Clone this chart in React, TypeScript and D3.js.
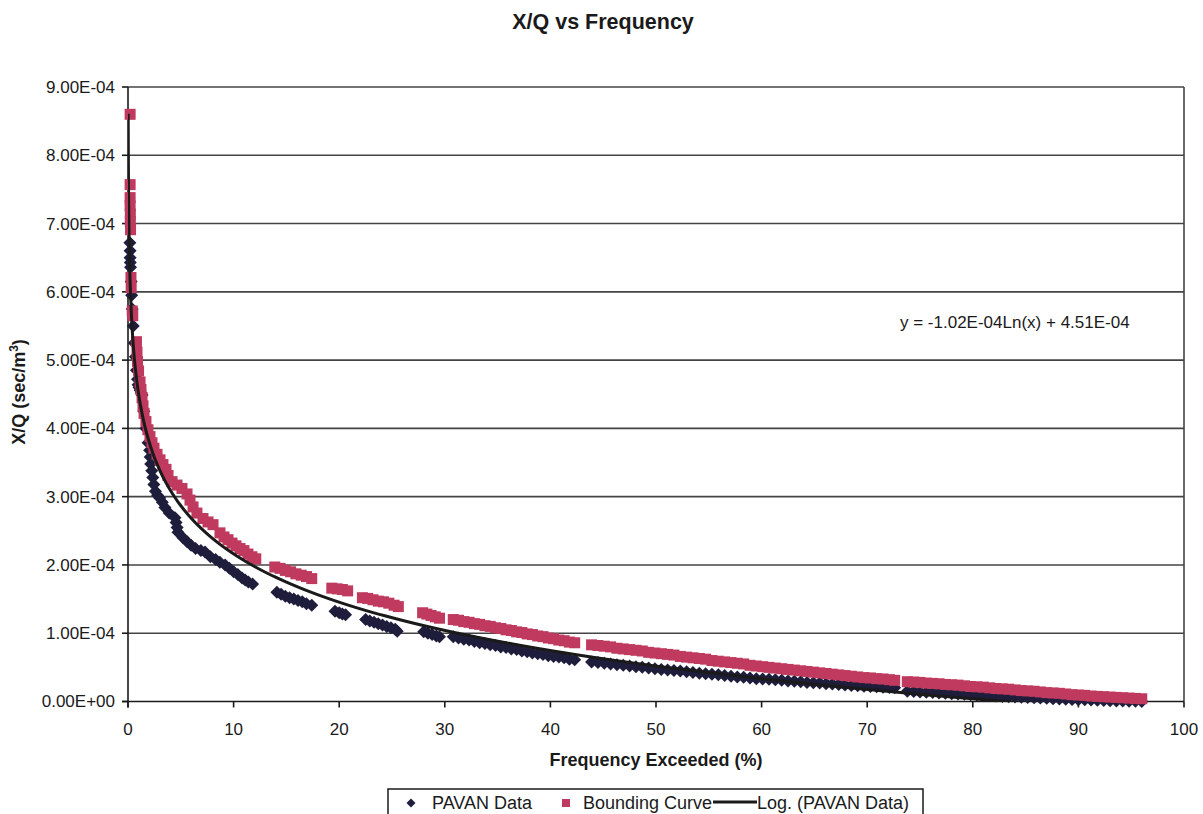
import React from 'react';
import * as d3 from 'd3';

// ---------- data (x = frequency exceeded %, y in units of 1E-04 sec/m^3) ----------
const Y_UNIT = 1e-4;
const TITLE = 'X/Q vs Frequency';
const X_TITLE = 'Frequency Exceeded (%)';
const EQUATION = 'y = -1.02E-04Ln(x) + 4.51E-04';
const xTicks = [0, 10, 20, 30, 40, 50, 60, 70, 80, 90, 100];
const yTicks = [0, 1, 2, 3, 4, 5, 6, 7, 8, 9];
const yTickLabels = ['0.00E+00', '1.00E-04', '2.00E-04', '3.00E-04', '4.00E-04', '5.00E-04', '6.00E-04', '7.00E-04', '8.00E-04', '9.00E-04'];
const legendLabels = ['PAVAN Data', 'Bounding Curve', 'Log. (PAVAN Data)'];
const TREND_A = -1.02e-4;
const TREND_B = 4.51e-4;
const TREND_X_MIN = 0.018;
const TREND_X_MAX = 96.0;

const pavanData: [number, number][] = [
  [0.18, 6.72], [0.2, 6.6], [0.2, 6.5], [0.22, 6.43], [0.24, 6.36], [0.3, 6.15], [0.35, 5.95], [0.4, 5.75],
  [0.5, 5.5], [0.6, 5.25], [0.7, 5.05], [0.8, 4.85], [0.9, 4.72], [0.95, 4.64], [1.05, 4.6], [1.15, 4.56],
  [1.25, 4.52], [1.33, 4.49], [1.5, 4.25], [1.7, 4.0], [1.9, 3.79], [2.05, 3.68], [2.1, 3.58], [2.15, 3.48],
  [2.25, 3.38], [2.35, 3.28], [2.45, 3.18], [2.6, 3.08], [2.8, 3.02], [3.0, 2.98], [3.25, 2.92], [3.5, 2.84],
  [3.9, 2.76], [4.45, 2.69], [4.55, 2.62], [4.65, 2.55], [4.73, 2.48], [5.2, 2.4], [5.6, 2.34], [5.97, 2.29],
  [6.4, 2.24], [6.9, 2.21], [7.3, 2.19], [7.8, 2.12], [8.3, 2.08], [8.7, 2.04], [9.2, 2.0], [9.6, 1.95],
  [10.0, 1.9], [10.4, 1.86], [10.8, 1.81], [11.1, 1.78], [11.4, 1.75], [11.8, 1.72],
  [14.1, 1.6], [14.5, 1.57], [14.9, 1.54], [15.3, 1.52], [15.7, 1.5], [16.1, 1.48], [16.5, 1.46], [16.9, 1.43], [17.4, 1.41],
  [19.6, 1.32], [20.0, 1.3], [20.3, 1.28], [20.6, 1.27],
  [22.5, 1.2], [22.9, 1.18], [23.3, 1.16], [23.7, 1.14], [24.1, 1.12], [24.5, 1.1], [24.9, 1.08], [25.3, 1.06], [25.5, 1.03],
  [28.0, 1.02], [28.4, 1.0], [28.8, 0.98], [29.2, 0.96], [29.5, 0.95],
  [30.8, 0.95], [31.3, 0.93], [31.8, 0.91], [32.3, 0.9], [32.8, 0.88], [33.3, 0.86], [33.8, 0.85], [34.3, 0.83],
  [34.8, 0.82], [35.3, 0.8], [35.8, 0.79], [36.3, 0.77], [36.8, 0.76], [37.3, 0.74], [37.8, 0.73], [38.3, 0.71],
  [38.8, 0.7], [39.3, 0.69], [39.8, 0.67], [40.3, 0.66], [40.8, 0.65], [41.3, 0.64], [41.8, 0.62], [42.3, 0.61],
  [43.9, 0.58], [44.5, 0.57], [45.1, 0.56], [45.7, 0.55], [46.3, 0.54], [46.9, 0.53], [47.5, 0.52], [48.1, 0.51],
  [48.7, 0.5], [49.3, 0.49], [49.9, 0.48], [50.5, 0.47], [51.1, 0.46], [51.7, 0.455], [52.3, 0.445], [52.9, 0.435],
  [53.5, 0.425], [54.1, 0.415], [54.7, 0.405], [55.3, 0.4], [55.9, 0.39], [56.5, 0.38], [57.1, 0.37], [57.7, 0.36],
  [58.3, 0.355], [58.9, 0.345], [59.5, 0.335], [60.1, 0.33], [60.7, 0.325], [61.3, 0.32],
  [61.9, 0.31], [62.5, 0.3], [63.1, 0.295], [63.7, 0.29], [64.3, 0.28], [64.9, 0.275], [65.5, 0.27], [66.1, 0.26],
  [66.7, 0.255], [67.3, 0.25], [67.9, 0.24], [68.5, 0.235], [69.1, 0.23], [69.7, 0.225], [70.3, 0.22], [70.9, 0.215],
  [71.5, 0.21], [72.1, 0.205], [72.6, 0.2],
  [73.8, 0.15], [74.4, 0.145], [75.0, 0.14], [75.6, 0.135], [76.2, 0.13], [76.8, 0.125], [77.4, 0.12], [78.0, 0.115],
  [78.6, 0.11], [79.2, 0.105], [79.8, 0.1], [80.4, 0.095], [81.0, 0.09], [81.6, 0.085], [82.2, 0.08], [82.8, 0.075],
  [83.4, 0.07], [84.0, 0.066], [84.6, 0.062], [85.2, 0.058], [85.8, 0.054], [86.4, 0.05], [87.0, 0.046], [87.6, 0.042],
  [88.2, 0.038], [88.8, 0.034], [89.4, 0.03], [90.0, 0.027], [90.6, 0.024], [91.2, 0.021], [91.8, 0.018], [92.4, 0.015],
  [93.0, 0.012], [93.6, 0.009], [94.2, 0.006], [94.8, 0.004], [95.4, 0.002], [96.0, 0.0],
];

const boundingCurve: [number, number][] = [
  [0.2, 8.6], [0.2, 7.57], [0.2, 7.38], [0.2, 7.26], [0.22, 7.14], [0.22, 7.03], [0.24, 6.91], [0.28, 6.21],
  [0.3, 6.06], [0.4, 5.72], [0.45, 5.65], [0.8, 5.27], [0.85, 5.12], [0.9, 4.98], [1.0, 4.84],
  [1.14, 4.68], [1.23, 4.57], [1.33, 4.45], [1.42, 4.33], [1.52, 4.22], [1.7, 4.1], [1.89, 3.98], [2.08, 3.88],
  [2.27, 3.79], [2.46, 3.71], [2.75, 3.62], [3.03, 3.54], [3.31, 3.47], [3.6, 3.4], [3.79, 3.31], [4.17, 3.22],
  [4.64, 3.17], [5.11, 3.12], [5.59, 3.04], [5.87, 2.95], [6.16, 2.85], [6.53, 2.76], [7.1, 2.68], [7.58, 2.63], [8.05, 2.59],
  [8.71, 2.47], [9.09, 2.41], [9.47, 2.37], [9.85, 2.32], [10.23, 2.28], [10.61, 2.24], [10.98, 2.21], [11.36, 2.16],
  [11.74, 2.12], [12.1, 2.09],
  [13.9, 1.97], [14.4, 1.95], [14.9, 1.92], [15.4, 1.9], [15.9, 1.87], [16.4, 1.85], [16.9, 1.83], [17.4, 1.8],
  [19.3, 1.66], [19.8, 1.65], [20.3, 1.64], [20.8, 1.62],
  [22.2, 1.52], [22.7, 1.51], [23.2, 1.49], [23.7, 1.47], [24.2, 1.46], [24.7, 1.44], [25.2, 1.41], [25.6, 1.39],
  [27.9, 1.3], [28.3, 1.28], [28.7, 1.26], [29.1, 1.24], [29.5, 1.22],
  [30.8, 1.2], [31.3, 1.19], [31.8, 1.17], [32.3, 1.16], [32.8, 1.14], [33.3, 1.13], [33.8, 1.11], [34.3, 1.1],
  [34.8, 1.08], [35.3, 1.07], [35.8, 1.05], [36.3, 1.04], [36.8, 1.02], [37.3, 1.01], [37.8, 0.99], [38.3, 0.98],
  [38.8, 0.96], [39.3, 0.95], [39.8, 0.93], [40.3, 0.92], [40.8, 0.9], [41.3, 0.89], [41.8, 0.87], [42.3, 0.86],
  [43.9, 0.83], [44.5, 0.82], [45.1, 0.81], [45.7, 0.8], [46.3, 0.78], [46.9, 0.77], [47.5, 0.76], [48.1, 0.75],
  [48.7, 0.74], [49.3, 0.72], [49.9, 0.71], [50.5, 0.7], [51.1, 0.69], [51.7, 0.68], [52.3, 0.66], [52.9, 0.65],
  [53.5, 0.64], [54.1, 0.63], [54.7, 0.62], [55.3, 0.6], [55.9, 0.59], [56.5, 0.58], [57.1, 0.57], [57.7, 0.56],
  [58.3, 0.55], [58.9, 0.53], [59.5, 0.52], [60.1, 0.51], [60.7, 0.5], [61.3, 0.49],
  [61.9, 0.48], [62.5, 0.47], [63.1, 0.46], [63.7, 0.45], [64.3, 0.44], [64.9, 0.43], [65.5, 0.42], [66.1, 0.41],
  [66.7, 0.4], [67.3, 0.39], [67.9, 0.38], [68.5, 0.37], [69.1, 0.36], [69.7, 0.35], [70.3, 0.345], [70.9, 0.335],
  [71.5, 0.33], [72.1, 0.32], [72.6, 0.31],
  [73.8, 0.29], [74.4, 0.285], [75.0, 0.28], [75.6, 0.27], [76.2, 0.265], [76.8, 0.26], [77.4, 0.25], [78.0, 0.245],
  [78.6, 0.24], [79.2, 0.23], [79.8, 0.22], [80.4, 0.215], [81.0, 0.21], [81.6, 0.2], [82.2, 0.19], [82.8, 0.185],
  [83.4, 0.18], [84.0, 0.17], [84.6, 0.16], [85.2, 0.155], [85.8, 0.15], [86.4, 0.14], [87.0, 0.13], [87.6, 0.125],
  [88.2, 0.12], [88.8, 0.11], [89.4, 0.1], [90.0, 0.095], [90.6, 0.09], [91.2, 0.08], [91.8, 0.075], [92.4, 0.07],
  [93.0, 0.065], [93.6, 0.06], [94.2, 0.055], [94.8, 0.05], [95.4, 0.045], [96.0, 0.04],
];

// ---------- styling ----------
const FONT = '"Liberation Sans", Arial, Helvetica, sans-serif';
const DARK = '#1e1e3c';
const RED = '#bf3a5e';
const GRID = '#444';
const INK = '#1a1a1a';

export default function App() {
  const W = 1203;
  const H = 814;
  const m = { left: 128, right: 1184, top: 87, bottom: 701.5 };
  const x = d3.scaleLinear().domain([0, 100]).range([m.left, m.right]);
  const y = d3.scaleLinear().domain([0, 9 * Y_UNIT]).range([m.bottom, m.top]);

  const diamondPath = 'M0,-6.5L6.5,0L0,6.5L-6.5,0Z';
  const sq = 11;

  const trendXs = d3.range(0, 401).map((i) => TREND_X_MIN * Math.pow(TREND_X_MAX / TREND_X_MIN, i / 400));
  const trendLine = d3
    .line<number>()
    .x((d) => x(d))
    .y((d) => y(TREND_A * Math.log(d) + TREND_B))
    .curve(d3.curveLinear);

  return (
    <svg
      width={W}
      height={H}
      viewBox={`0 0 ${W} ${H}`}
      style={{ position: 'absolute', left: 0, top: 0, background: '#fff', fontFamily: FONT }}
    >
      <rect x={0} y={0} width={W} height={H} fill="#fff" />
      <defs>
        <clipPath id="plotClip">
          <rect x={m.left} y={m.top} width={m.right - m.left} height={m.bottom - m.top} />
        </clipPath>
      </defs>

      {/* title */}
      <text x={603} y={29} textAnchor="middle" fontSize={21.5} fontWeight="bold" fill={INK}>
        {TITLE}
      </text>

      {/* gridlines */}
      {yTicks.filter((t) => t > 0).map((t) => (
        <line key={'g' + t} x1={m.left} x2={m.right} y1={y(t * Y_UNIT)} y2={y(t * Y_UNIT)} stroke={GRID} strokeWidth={1.6} />
      ))}
      {/* right border */}
      <line x1={m.right} x2={m.right} y1={m.top} y2={m.bottom} stroke={GRID} strokeWidth={1.6} />

      {/* axes */}
      <line x1={m.left} x2={m.left} y1={m.top} y2={m.bottom + 6} stroke={INK} strokeWidth={1.6} />
      <line x1={m.left - 6} x2={m.right} y1={m.bottom} y2={m.bottom} stroke={INK} strokeWidth={1.6} />
      {yTicks.map((t, i) => (
        <g key={'y' + t}>
          <line x1={m.left - 6} x2={m.left} y1={y(t * Y_UNIT)} y2={y(t * Y_UNIT)} stroke={INK} strokeWidth={1.6} />
          <text x={115} y={y(t * Y_UNIT)} dy="0.35em" textAnchor="end" fontSize={17} fill={INK}>
            {yTickLabels[i]}
          </text>
        </g>
      ))}
      {xTicks.map((t) => (
        <g key={'x' + t}>
          <line x1={x(t)} x2={x(t)} y1={m.bottom} y2={m.bottom + 6} stroke={INK} strokeWidth={1.6} />
          <text x={x(t)} y={735} textAnchor="middle" fontSize={17} fill={INK}>
            {t}
          </text>
        </g>
      ))}

      {/* axis titles */}
      <text x={656} y={766} textAnchor="middle" fontSize={18} fontWeight="bold" fill={INK}>
        {X_TITLE}
      </text>
      <text transform="translate(25,392) rotate(-90)" textAnchor="middle" fontSize={18} fontWeight="bold" fill={INK}>
        X/Q (sec/m<tspan fontSize={12} dy={-7}>3</tspan>
        <tspan dy={7}>)</tspan>
      </text>

      {/* PAVAN data */}
      <g>
        {pavanData.map(([px, py], i) => (
          <path key={'p' + i} d={diamondPath} transform={`translate(${x(px)},${y(py * Y_UNIT)})`} fill={DARK} />
        ))}
      </g>
      {/* Bounding curve */}
      <g>
        {boundingCurve.map(([bx, by], i) => (
          <rect key={'b' + i} x={x(bx) - sq / 2} y={y(by * Y_UNIT) - sq / 2} width={sq} height={sq} fill={RED} />
        ))}
      </g>
      {/* Log trendline */}
      <path d={trendLine(trendXs) || ''} fill="none" stroke={INK} strokeWidth={3} clipPath="url(#plotClip)" />

      {/* equation */}
      <text x={900} y={328} fontSize={17} fill={INK}>
        {EQUATION}
      </text>

      {/* legend */}
      <g>
        <rect x={388} y={789} width={535} height={40} fill="#fff" stroke={INK} strokeWidth={1.5} />
        <path d={'M0,-4.5L4.5,0L0,4.5L-4.5,0Z'} transform="translate(411,803)" fill={DARK} />
        <text x={432} y={809} fontSize={18} fill={INK}>{legendLabels[0]}</text>
        <rect x={562} y={799} width={8} height={8} fill={RED} />
        <text x={583} y={809} fontSize={18} fill={INK}>{legendLabels[1]}</text>
        <line x1={713} x2={757} y1={802} y2={802} stroke={INK} strokeWidth={3} />
        <text x={757} y={809} fontSize={18} fill={INK}>{legendLabels[2]}</text>
      </g>
    </svg>
  );
}
